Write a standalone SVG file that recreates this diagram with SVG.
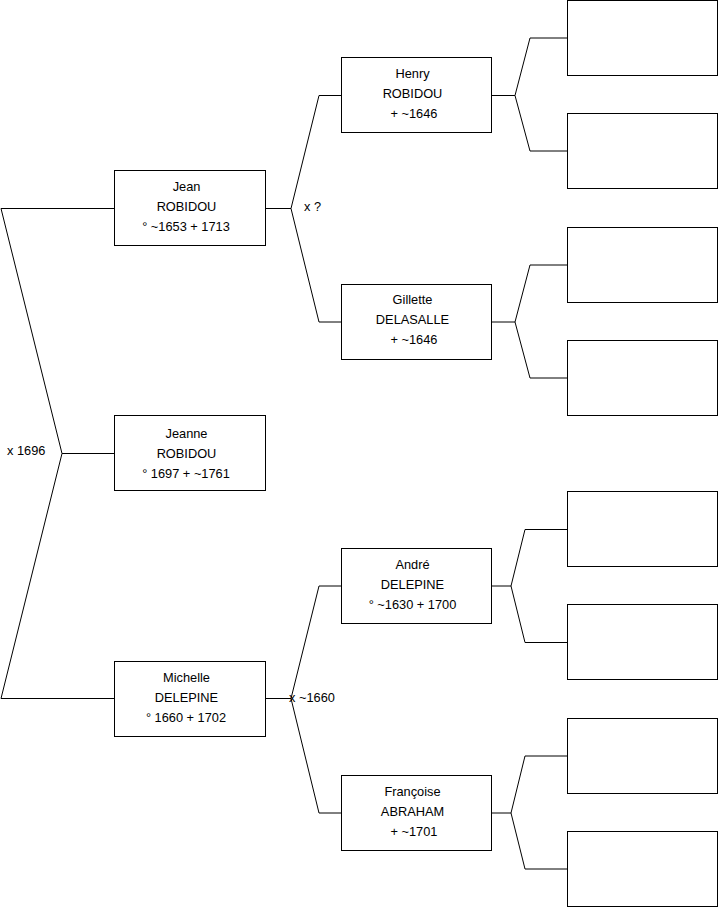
<svg xmlns="http://www.w3.org/2000/svg" width="719" height="908" viewBox="0 0 719 908">
<style>
.box{fill:#fff;stroke:#000;stroke-width:1}
.ln{fill:none;stroke:#000;stroke-width:1}
text{font-family:"Liberation Sans",Arial,sans-serif;font-size:12.8px;fill:#000}
.c{text-anchor:middle}
</style>
<rect width="719" height="908" fill="#fff"/>
<g id="connectors">
<path class="ln" d="M114.5,208.5 H1 L62,453.5 L1,698.5 H114.5 M62,453.5 H114.5"/>
<path class="ln" d="M265.5,208.5 H291 L319,95.5 H341.5 M291,208.5 L319,322 H341.5"/>
<path class="ln" d="M265.5,698.5 H291 L319,586 H341.5 M291,698.5 L319,813 H341.5"/>
<path class="ln" d="M491.5,95.5 H515 L530,38 H567.5 M515,95.5 L530,151 H567.5"/>
<path class="ln" d="M491.5,322 H515 L530,265 H567.5 M515,322 L530,378 H567.5"/>
<path class="ln" d="M491.5,586 H511 L525,529.5 H567.5 M511,586 L525,642.5 H567.5"/>
<path class="ln" d="M491.5,813 H511 L525,756 H567.5 M511,813 L525,869 H567.5"/>
<text x="304" y="211">x ?</text>
<text x="7" y="455">x 1696</text>
<text x="289" y="702">x ~1660</text>
</g>
<g id="jean">
<rect class="box" x="114.5" y="170.5" width="151" height="75"/>
<text class="c" x="186.5" y="190.5">Jean</text>
<text class="c" x="186.5" y="210.5">ROBIDOU</text>
<text class="c" x="186" y="230.5">° ~1653 + 1713</text>
</g>
<g id="jeanne">
<rect class="box" x="114.5" y="415.5" width="151" height="75"/>
<text class="c" x="186.5" y="438">Jeanne</text>
<text class="c" x="186.5" y="458">ROBIDOU</text>
<text class="c" x="186" y="478">° 1697 + ~1761</text>
</g>
<g id="michelle">
<rect class="box" x="114.5" y="661.5" width="151" height="75"/>
<text class="c" x="186.5" y="682">Michelle</text>
<text class="c" x="186.5" y="702">DELEPINE</text>
<text class="c" x="186" y="722">° 1660 + 1702</text>
</g>
<g id="henry">
<rect class="box" x="341.5" y="57.5" width="150" height="75"/>
<text class="c" x="412.5" y="78">Henry</text>
<text class="c" x="412.5" y="98">ROBIDOU</text>
<text class="c" x="414" y="118">+ ~1646</text>
</g>
<g id="gillette">
<rect class="box" x="341.5" y="284.5" width="150" height="75"/>
<text class="c" x="412.5" y="303.5">Gillette</text>
<text class="c" x="412.5" y="323.5">DELASALLE</text>
<text class="c" x="414" y="343.5">+ ~1646</text>
</g>
<g id="andre">
<rect class="box" x="341.5" y="548.5" width="150" height="75"/>
<text class="c" x="412.5" y="569">André</text>
<text class="c" x="412.5" y="589">DELEPINE</text>
<text class="c" x="412.5" y="609">° ~1630 + 1700</text>
</g>
<g id="francoise">
<rect class="box" x="341.5" y="775.5" width="150" height="75"/>
<text class="c" x="412.5" y="796">Françoise</text>
<text class="c" x="412.5" y="816">ABRAHAM</text>
<text class="c" x="414" y="836">+ ~1701</text>
</g>
<g id="p1"><rect class="box" x="567.5" y="0.5" width="150" height="75"/></g>
<g id="p2"><rect class="box" x="567.5" y="113.5" width="150" height="75"/></g>
<g id="p3"><rect class="box" x="567.5" y="227.5" width="150" height="75"/></g>
<g id="p4"><rect class="box" x="567.5" y="340.5" width="150" height="75"/></g>
<g id="p5"><rect class="box" x="567.5" y="491.5" width="150" height="75"/></g>
<g id="p6"><rect class="box" x="567.5" y="604.5" width="150" height="75"/></g>
<g id="p7"><rect class="box" x="567.5" y="718.5" width="150" height="75"/></g>
<g id="p8"><rect class="box" x="567.5" y="831.5" width="150" height="75"/></g>
</svg>
